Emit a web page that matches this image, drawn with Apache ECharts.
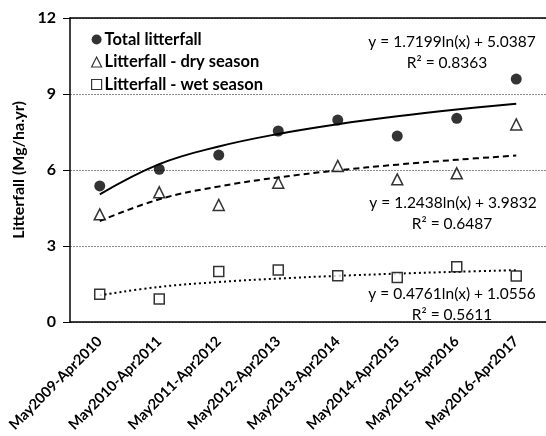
<!DOCTYPE html>
<html><head><meta charset="utf-8">
<script src="https://cdn.jsdelivr.net/npm/echarts@6/dist/echarts.min.js"></script>
<style>html,body{margin:0;padding:0;background:#fff}#c{width:546px;height:436px}</style>
</head><body><div id="c"></div>
<script>
var categories = ['May2009-Apr2010','May2010-Apr2011','May2011-Apr2012','May2012-Apr2013','May2013-Apr2014','May2014-Apr2015','May2015-Apr2016','May2016-Apr2017'];
var totalLitter = [5.37, 6.03, 6.59, 7.54, 7.97, 7.34, 8.04, 9.59];
var dryLitter = [4.25, 5.12, 4.62, 5.50, 6.16, 5.63, 5.87, 7.80];
var wetLitter = [1.10, 0.91, 1.99, 2.05, 1.83, 1.76, 2.18, 1.82];
var yTicks = [0, 3, 6, 9, 12];
// trendline coefficients: y = a ln(x) + b
var trendTotal = [1.7199, 5.0387];
var trendDry = [1.2438, 3.9832];
var trendWet = [0.4761, 1.0556];
var eqTexts = ['y = 1.7199ln(x) + 5.0387', 'R² = 0.8363', 'y = 1.2438ln(x) + 3.9832', 'R² = 0.6487', 'y = 0.4761ln(x) + 1.0556', 'R² = 0.5611'];

function trend(c){ return categories.map(function(_, i){ return +(c[0]*Math.log(i+1)+c[1]).toFixed(4); }); }

var FONT = 'Lato';
var chart = echarts.init(document.getElementById('c'), null, {renderer:'canvas'});
var eqStyle = {fontFamily: FONT, fontSize: 15.5, fill: '#000', textAlign: 'center', textVerticalAlign: 'middle'};
chart.setOption({
  animation: false,
  grid: {left: 70, right: -1, top: 18, bottom: 114},
  legend: {
    orient: 'vertical', left: 86, top: 26, itemGap: 5.5, itemWidth: 10, itemHeight: 10,
    itemStyle: {borderWidth: 1.2},
    textStyle: {fontFamily: FONT, fontWeight: 'bold', fontSize: 16.5, lineHeight: 16, color: '#000', padding: [0,0,0,-2]},
    data: [
      {name: 'Total litterfall', icon: 'circle'},
      {name: 'Litterfall - dry season', icon: 'triangle'},
      {name: 'Litterfall - wet season', icon: 'rect'}
    ]
  },
  xAxis: [{
    type: 'category', data: categories, boundaryGap: true, position: 'bottom',
    axisLine: {lineStyle: {color: '#000', width: 1.5}},
    axisTick: {alignWithLabel: true, inside: true, length: 5, lineStyle: {color: '#888'}},
    axisLabel: {rotate: 45, margin: 17, fontFamily: FONT, fontWeight: 'bold', fontSize: 14.5, color: '#000'},
    splitLine: {show: false}
  }, {
    type: 'category', data: categories, boundaryGap: true, position: 'top',
    axisLine: {lineStyle: {color: '#000', width: 1.5}},
    axisTick: {alignWithLabel: true, inside: true, length: 5, lineStyle: {color: '#888'}},
    axisLabel: {show: false}
  }],
  yAxis: {
    type: 'value', min: 0, max: 12, interval: 3,
    name: 'Litterfall (Mg/ha.yr)', nameLocation: 'middle', nameGap: 42,
    nameTextStyle: {fontFamily: FONT, fontWeight: 'bold', fontSize: 16, color: '#000'},
    axisLine: {show: true, lineStyle: {color: '#000', width: 1.5}},
    axisTick: {show: true, length: 7, lineStyle: {color: '#000'}},
    axisLabel: {fontFamily: FONT, fontWeight: 'bold', fontSize: 16, color: '#000', margin: 14,
      formatter: function(v){ return yTicks.indexOf(v) >= 0 ? String(v) : ''; }},
    splitLine: {lineStyle: {color: '#888', type: [2, 1], width: 1}}
  },
  series: [
    {name: 'Total litterfall', type: 'scatter', data: totalLitter, symbol: 'circle', symbolSize: 11,
      itemStyle: {color: '#000'}, z: 5},
    {name: 'Litterfall - dry season', type: 'scatter', data: dryLitter, symbol: 'triangle', symbolSize: 11,
      itemStyle: {color: '#fff', borderColor: '#000', borderWidth: 1.5}, z: 5},
    {name: 'Litterfall - wet season', type: 'scatter', data: wetLitter, symbol: 'rect', symbolSize: 10,
      itemStyle: {color: '#fff', borderColor: '#000', borderWidth: 1.5}, z: 5},
    {type: 'line', data: trend(trendTotal), smooth: 0.4, symbol: 'none', lineStyle: {color: '#000', width: 2}, z: 3},
    {type: 'line', data: trend(trendDry), smooth: 0.4, symbol: 'none', lineStyle: {color: '#000', width: 2, type: [6, 4]}, z: 3},
    {type: 'line', data: trend(trendWet), smooth: 0.4, symbol: 'none', lineStyle: {color: '#000', width: 2, type: [2, 3]}, z: 3}
  ],
  graphic: [
    {type: 'text', x: 452, y: 42, style: Object.assign({text: eqTexts[0]}, eqStyle)},
    {type: 'text', x: 447, y: 63, style: Object.assign({text: eqTexts[1]}, eqStyle)},
    {type: 'text', x: 453, y: 203, style: Object.assign({text: eqTexts[2]}, eqStyle)},
    {type: 'text', x: 452, y: 224, style: Object.assign({text: eqTexts[3]}, eqStyle)},
    {type: 'text', x: 452, y: 294, style: Object.assign({text: eqTexts[4]}, eqStyle)},
    {type: 'text', x: 452, y: 315, style: Object.assign({text: eqTexts[5]}, eqStyle)}
  ]
});
</script></body></html>
